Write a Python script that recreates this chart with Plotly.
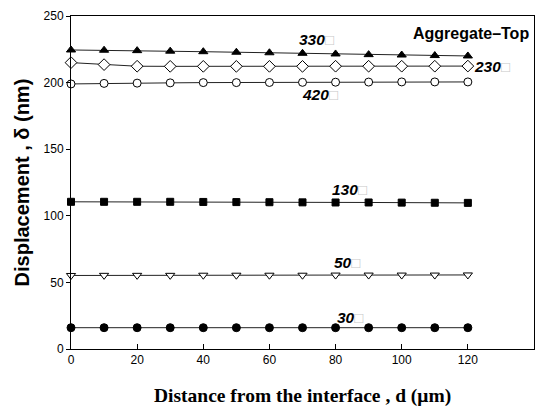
import plotly.graph_objects as go

# Distance from the interface (µm)
distance = [0, 10, 20, 30, 40, 50, 60, 70, 80, 90, 100, 110, 120]

# Displacement (nm) at each temperature
disp_330 = [224.5, 224.3, 224.0, 223.6, 223.2, 222.8, 222.4, 222.0, 221.5, 221.0, 220.7, 220.3, 220.0]
disp_230 = [215.0, 213.5, 212.3, 212.2, 212.2, 212.2, 212.2, 212.2, 212.3, 212.3, 212.3, 212.3, 212.4]
disp_420 = [199.0, 199.4, 199.6, 199.8, 200.0, 200.0, 200.1, 200.2, 200.3, 200.4, 200.5, 200.5, 200.5]
disp_130 = [110.5, 110.5, 110.5, 110.5, 110.4, 110.3, 110.2, 110.1, 110.0, 110.0, 109.9, 109.8, 109.7]
disp_50 = [55.2, 55.3, 55.3, 55.3, 55.4, 55.4, 55.4, 55.4, 55.5, 55.5, 55.5, 55.5, 55.6]
disp_30 = [16.0, 16.0, 16.0, 16.0, 16.0, 16.0, 16.0, 16.0, 16.0, 16.0, 16.0, 16.0, 16.0]

series = [
    (disp_330, "triangle-up", "black", 8),
    (disp_230, "diamond", "white", 9),
    (disp_420, "circle", "white", 8),
    (disp_130, "square", "black", 7),
    (disp_50, "triangle-down", "white", 8),
    (disp_30, "circle", "black", 8),
]

# Temperature labels: (text, x, y)
labels = [
    ("330", 68.3, 232),
    ("230", 121.3, 212),
    ("420", 69.2, 191),
    ("130", 78.3, 120),
    ("50", 78.9, 64.7),
    ("30", 79.8, 24),
]

fig = go.Figure()
for values, symbol, fill, size in series:
    fig.add_trace(go.Scatter(
        x=distance, y=values, mode="lines+markers",
        line=dict(color="#222222", width=1),
        marker=dict(symbol=symbol, size=size, color=fill,
                    line=dict(color="black", width=1)),
        showlegend=False, cliponaxis=False,
    ))

box = "<span style='color:#c8c8c8;font-weight:normal;font-style:normal;font-size:15px'>□</span>"
for text, lx, ly in labels:
    fig.add_annotation(
        x=lx, y=ly, xref="x", yref="y", text=f"<b><i>{text}</i></b>{box}",
        showarrow=False, xanchor="left", yanchor="middle",
        font=dict(family="Liberation Sans, Arial", size=15.5, color="black"),
    )

fig.add_annotation(
    x=0.993, y=0.946, xref="paper", yref="paper", text="<b>Aggregate–Top</b>",
    showarrow=False, xanchor="right", yanchor="middle",
    font=dict(family="Liberation Sans, Arial", size=16, color="black"),
)

fig.add_annotation(
    x=0.5, y=-0.14, xref="paper", yref="paper",
    text="<b>Distance from the interface , d (μm)</b>",
    showarrow=False, xanchor="center", yanchor="middle",
    font=dict(family="Liberation Serif, Times New Roman", size=19.5, color="black"),
)
fig.add_annotation(
    x=-0.106, y=0.5, xref="paper", yref="paper",
    text="<b>Displacement , δ (nm)</b>", textangle=-90,
    showarrow=False, xanchor="center", yanchor="middle",
    font=dict(family="Liberation Sans, Arial", size=20, color="black"),
)

fig.update_xaxes(
    range=[0, 140], tickvals=[0, 20, 40, 60, 80, 100, 120, 140],
    ticks="inside", ticklen=5, tickcolor="black", showline=True, linecolor="black",
    linewidth=1, mirror=True, showgrid=False, zeroline=False,
    tickfont=dict(family="Liberation Sans, Arial", size=12, color="black"),
)
fig.update_yaxes(
    range=[0, 250], tickvals=[0, 50, 100, 150, 200, 250],
    ticks="outside", ticklen=4, tickcolor="black", showline=True, linecolor="black",
    linewidth=1, mirror=True, showgrid=False, zeroline=False,
    tickfont=dict(family="Liberation Sans, Arial", size=12, color="black"),
)

fig.update_layout(
    width=544, height=410,
    margin=dict(l=71, r=9, t=13, b=61),
    paper_bgcolor="white", plot_bgcolor="white",
)

fig.write_html("out.html")
